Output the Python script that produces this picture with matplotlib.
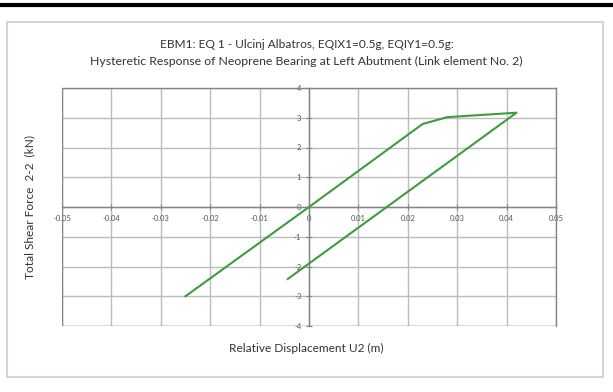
import matplotlib.pyplot as plt
from matplotlib.patches import Rectangle
from matplotlib.lines import Line2D

# Hysteretic loop: displacement (m) vs total shear force (kN)
desloc = [-0.025, 0.0, 0.023, 0.028, 0.042, -0.0043]
forca = [-3.0, 0.0, 2.79, 3.02, 3.17, -2.42]

x_ticks = [-0.05, -0.04, -0.03, -0.02, -0.01, 0, 0.01, 0.02, 0.03, 0.04, 0.05]
y_ticks = [-4, -3, -2, -1, 0, 1, 2, 3, 4]

plt.rcParams['font.family'] = ['Lato', 'DejaVu Sans']

fig = plt.figure(figsize=(6.13, 3.92), dpi=100)

# moldura externa e linha preta superior
fig.patches.append(Rectangle((7 / 613, 1 - 377 / 392), 596 / 613, 355 / 392,
                             transform=fig.transFigure, fill=False,
                             edgecolor='#d4d4d4', lw=1.5))
fig.lines.append(Line2D([0, 1], [1 - 4.5 / 392, 1 - 4.5 / 392],
                        transform=fig.transFigure, color='black', lw=3))

ax = fig.add_axes([62 / 613, 1 - 326 / 392, 494 / 613, 238 / 392])
ax.plot(desloc, forca, color='#3f9b3f', lw=1.5, zorder=3)

ax.set_xlim(-0.05, 0.05)
ax.set_ylim(-4, 4)
ax.set_xticks(x_ticks)
ax.set_yticks(y_ticks)
ax.set_xticklabels([f'{v:g}' for v in x_ticks])
ax.set_yticklabels([f'{v:g}' for v in y_ticks])

ax.spines['left'].set_position('zero')
ax.spines['bottom'].set_position('zero')
for s in ax.spines.values():
    s.set_color('#858585')
    s.set_linewidth(1.0)
ax.grid(True, color='#bcbcbc', lw=1.0)
ax.axvline(-0.05, color='#858585', lw=1.0)
ax.axhline(-4, color='#858585', lw=1.0)
ax.tick_params(direction='inout', length=4, width=0.8, color='#858585',
               labelsize=5.5, labelcolor='#555555', pad=3.5)

fig.text(0.5, 1 - 44 / 392, 'EBM1: EQ 1 - Ulcinj Albatros, EQIX1=0.5g, EQIY1=0.5g:',
         ha='center', va='center', fontsize=8.6, color='#333333')
fig.text(0.5, 1 - 61 / 392,
         'Hysteretic Response of Neoprene Bearing at Left Abutment (Link element No. 2)',
         ha='center', va='center', fontsize=8.8, color='#333333')
fig.text(30 / 613, 1 - 207 / 392, 'Total Shear Force  2-2  (kN)', rotation=90,
         ha='center', va='center', fontsize=8.6, color='#333333')
fig.text(0.5, 1 - 348 / 392, 'Relative Displacement U2 (m)',
         ha='center', va='center', fontsize=8.6, color='#333333')

fig.savefig('out.png', dpi=100)
